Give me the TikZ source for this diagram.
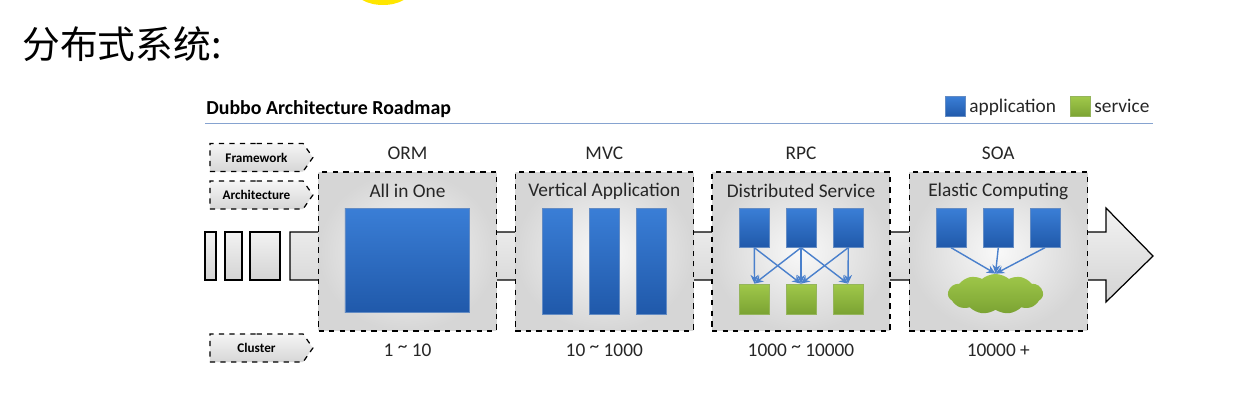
\documentclass[tikz,border=0pt]{standalone}
\usepackage{fontspec}
\setmainfont{Carlito}
\newfontfamily\cjk{Noto Sans CJK SC}
\usetikzlibrary{shapes.symbols,arrows.meta}

\definecolor{appblue}{HTML}{3A7ED6}
\definecolor{appbluedark}{HTML}{2059AA}
\definecolor{svcgreen}{HTML}{A0C84A}
\definecolor{svcgreendark}{HTML}{7BA333}
\definecolor{rulecol}{HTML}{86A3D0}
\definecolor{linkblue}{HTML}{4A80CC}
\definecolor{hilite}{HTML}{FFE600}
\newcommand{\upto}{\raisebox{0.18em}{\textasciitilde}}

\begin{document}
\begin{tikzpicture}[x=0.02cm,y=-0.02cm,
    stage/.style={draw, dashed, line width=0.8pt, inner color=gray!5, outer color=gray!32,
      minimum width=3.56cm, minimum height=3.18cm, inner sep=0pt},
    app/.style={top color=appblue, bottom color=appbluedark, draw=appbluedark!70, inner sep=0pt},
    svc/.style={top color=svcgreen, bottom color=svcgreendark, draw=svcgreendark!80, inner sep=0pt},
    tag/.style={signal, signal to=east, signal pointer angle=110, draw, dashed, line width=0.7pt,
      top color=gray!8, bottom color=gray!32, minimum width=2.06cm, minimum height=0.56cm,
      inner sep=0pt, font=\fontsize{7.5}{9}\selectfont\bfseries},
    link/.style={-{Stealth[length=5pt,width=4.5pt]}, linkblue, line width=0.8pt},
    lbl/.style={font=\fontsize{11}{13}\selectfont, text=black!85}]
    \useasboundingbox (0,0) rectangle (1258,400);
    % Highlight at the top edge
    \begin{scope}
        \clip (0,0) rectangle (1258,400);
        \fill[hilite] (383,-13) ellipse (30 and 18);
    \end{scope}
    % Title
    \node[anchor=base west, inner sep=0pt, font=\cjk\fontsize{21.5}{25}\selectfont] (title) at (22,58) {分布式系统:};
    \node[anchor=base west, inner sep=0pt, font=\fontsize{11.3}{13}\selectfont\bfseries] (roadmap) at (206,114) {Dubbo Architecture Roadmap};
    \draw[rulecol, line width=1.1pt] (205,123.5) -- (1153,123.5);
    % Legend
    \node[app, minimum size=0.4cm] (legapp) at (955.7,106.7) {};
    \node[lbl, anchor=base west, inner sep=0pt] (legapptext) at (969,112) {application};
    \node[svc, minimum size=0.4cm] (legsvc) at (1080.7,106.7) {};
    \node[lbl, anchor=base west, inner sep=0pt] (legsvctext) at (1094,112) {service};
    % Row tags
    \node[tag] (framework) at (256.5,157.5) {Framework};
    \node[tag] (architecture) at (256.5,195) {Architecture};
    \node[tag] (cluster) at (256.5,348) {Cluster};
    % Small bars on the left
    \draw[line width=0.7pt, top color=gray!10, bottom color=gray!34] (205,232) rectangle (216,280);
    \draw[line width=0.7pt, top color=gray!10, bottom color=gray!34] (225,232) rectangle (242,280);
    \draw[line width=0.7pt, top color=gray!10, bottom color=gray!34] (250,232) rectangle (280,280);
    % Big arrow band
    \draw[line width=0.7pt, top color=gray!10, bottom color=gray!34]
        (290,232) -- (1106,232) -- (1106,208) -- (1153,256) -- (1106,302) -- (1106,280) -- (290,280) -- cycle;
    % Stages
    \node[stage] (orm) at (407.5,251.5) {};
    \node[stage] (mvc) at (604.3,251.5) {};
    \node[stage] (rpc) at (801,251.5) {};
    \node[stage] (soa) at (998.3,251.5) {};
    \node[lbl] (ormtop) at (407.5,153) {ORM};
    \node[lbl] (mvctop) at (604.3,153) {MVC};
    \node[lbl] (rpctop) at (801,153) {RPC};
    \node[lbl] (soatop) at (998.3,153) {SOA};
    \node[lbl] (ormhead) at (407.5,191) {All in One};
    \node[lbl] (mvchead) at (604.3,191) {Vertical Application};
    \node[lbl] (rpchead) at (801,191) {Distributed Service};
    \node[lbl] (soahead) at (998.3,191) {Elastic Computing};
    \node[lbl] (ormnum) at (407.5,350) {1 \upto\ 10};
    \node[lbl] (mvcnum) at (604.3,350) {10 \upto\ 1000};
    \node[lbl] (rpcnum) at (801,350) {1000 \upto\ 10000};
    \node[lbl] (soanum) at (998.3,350) {10000 +};
    % ORM: all in one
    \node[app, minimum width=2.49cm, minimum height=2.09cm] (one) at (407.2,260.5) {};
    % MVC: vertical applications
    \node[app, minimum width=0.6cm, minimum height=2.11cm] (va1) at (557.7,261.2) {};
    \node[app, minimum width=0.6cm, minimum height=2.11cm] (va2) at (604.3,261.2) {};
    \node[app, minimum width=0.6cm, minimum height=2.11cm] (va3) at (651,261.2) {};
    % RPC: applications calling services
    \node[app, minimum width=0.6cm, minimum height=0.78cm] (ra1) at (754.3,227.8) {};
    \node[app, minimum width=0.6cm, minimum height=0.78cm] (ra2) at (801,227.8) {};
    \node[app, minimum width=0.6cm, minimum height=0.78cm] (ra3) at (848.3,227.8) {};
    \node[svc, minimum size=0.6cm] (rs1) at (754.5,299) {};
    \node[svc, minimum size=0.6cm] (rs2) at (801,299) {};
    \node[svc, minimum size=0.6cm] (rs3) at (848,299) {};
    \draw[link] (ra1.south) -- (rs1.north);
    \draw[link] (ra1.south) -- (rs2.north);
    \draw[link] (ra2.south) -- (rs1.north);
    \draw[link] (ra2.south) -- (rs2.north);
    \draw[link] (ra2.south) -- (rs3.north);
    \draw[link] (ra3.south) -- (rs2.north);
    \draw[link] (ra3.south) -- (rs3.north);
    % SOA: applications on a service cloud
    \node[app, minimum width=0.6cm, minimum height=0.78cm] (sa1) at (951,227.8) {};
    \node[app, minimum width=0.6cm, minimum height=0.78cm] (sa2) at (998.3,227.8) {};
    \node[app, minimum width=0.6cm, minimum height=0.78cm] (sa3) at (1045,227.8) {};
    \node[cloud, cloud puffs=11, cloud puff arc=80, aspect=2.5, top color=svcgreen, bottom color=svcgreendark,
        minimum width=1.9cm, minimum height=0.8cm, inner sep=0pt] (svccloud) at (995.5,294) {};
    \draw[link] (sa1.south) -- (svccloud.north);
    \draw[link] (sa2.south) -- (svccloud.north);
    \draw[link] (sa3.south) -- (svccloud.north);
\end{tikzpicture}
\end{document}
